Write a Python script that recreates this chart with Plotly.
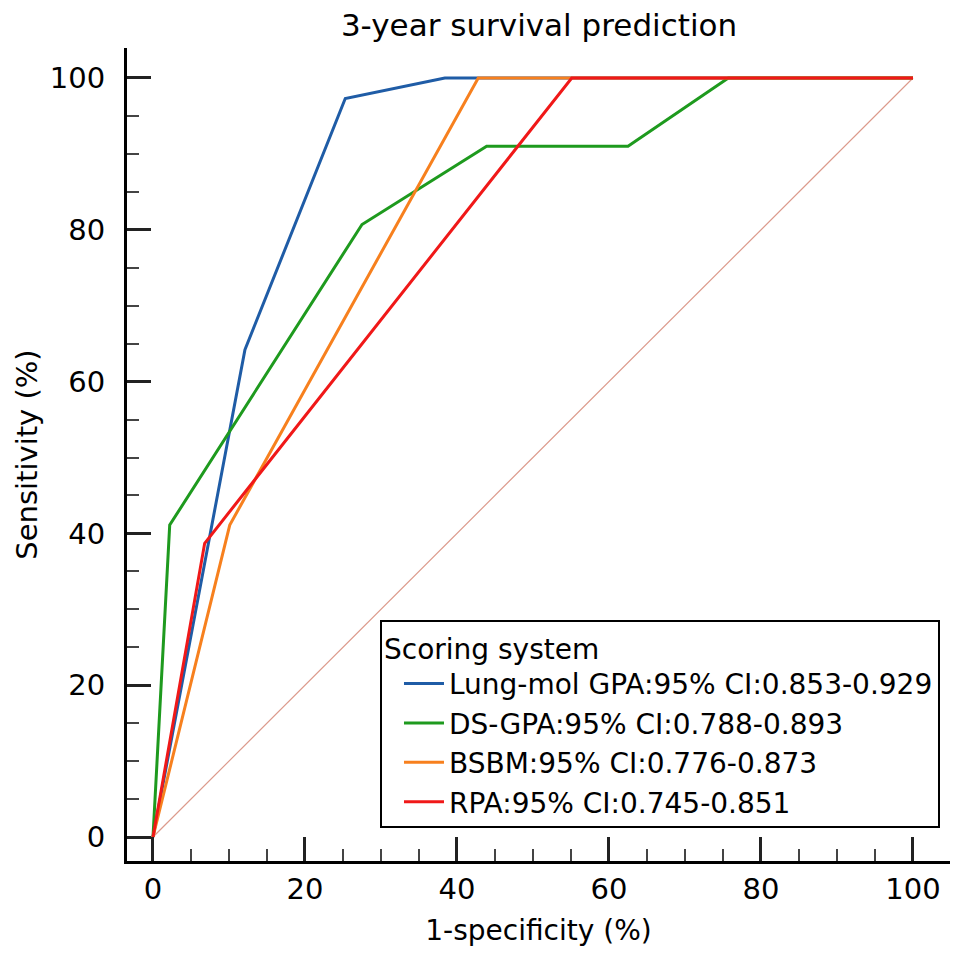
import plotly.graph_objects as go

# ROC data (1-specificity %, sensitivity %)
lung_x = [0, 12.1, 25.3, 38.4, 100]
lung_y = [0, 64.2, 97.3, 100, 100]
ds_x = [0, 2.2, 27.5, 43.9, 62.5, 75.7, 100]
ds_y = [0, 41.1, 80.7, 91.0, 91.0, 100, 100]
bsbm_x = [0, 10.1, 42.8, 100]
bsbm_y = [0, 41.1, 100, 100]
rpa_x = [0, 6.8, 55.1, 100]
rpa_y = [0, 38.7, 100, 100]
ref_x = [0, 100]
ref_y = [0, 100]

names = ["Lung-mol GPA:95% CI:0.853-0.929",
         "DS-GPA:95% CI:0.788-0.893",
         "BSBM:95% CI:0.776-0.873",
         "RPA:95% CI:0.745-0.851"]
colors = ["#1f5ca6", "#1e9a1e", "#f7801e", "#f01818"]

FONT = "DejaVu Sans, Liberation Sans, Arial, sans-serif"

fig = go.Figure()
fig.add_trace(go.Scatter(x=ref_x, y=ref_y, mode="lines",
                         line=dict(color="#dc9a8c", width=1.2),
                         showlegend=False, hoverinfo="skip"))
for xs, ys, nm, c in zip([lung_x, ds_x, bsbm_x, rpa_x],
                         [lung_y, ds_y, bsbm_y, rpa_y], names, colors):
    fig.add_trace(go.Scatter(x=xs, y=ys, mode="lines", name=nm,
                             line=dict(color=c, width=3)))

axis_common = dict(
    showline=True, linecolor="black", linewidth=3, mirror=False,
    showgrid=False, zeroline=False,
    ticks="inside", ticklen=24, tickwidth=3, tickcolor="#222",
    tickfont=dict(family=FONT, size=29, color="black"),
    dtick=20, tick0=0,
    minor=dict(ticks="inside", ticklen=12, tickwidth=2, tickcolor="#444", dtick=5, showgrid=False),
)

fig.update_layout(
    width=969, height=960,
    paper_bgcolor="white", plot_bgcolor="white",
    margin=dict(l=119, r=27, t=40, b=107),
    font=dict(family=FONT, color="black"),
    title=dict(text="3-year survival prediction", x=0.548, xanchor="center",
               y=0.982, yanchor="middle",
               font=dict(family=FONT, size=31, color="black")),
    xaxis=dict(range=[-3.42, 104.87],
               title=dict(text="1-specificity (%)", font=dict(family=FONT, size=28), standoff=16),
               **axis_common),
    yaxis=dict(range=[-3.16, 103.95], ticklabelstandoff=13,
               title=dict(text="Sensitivity (%)", font=dict(family=FONT, size=29), standoff=4),
               **axis_common),
    legend=dict(x=0.3074, y=0.168, xanchor="left", yanchor="middle",
                bgcolor="white", bordercolor="black", borderwidth=2,
                title=dict(text="Scoring system", font=dict(family=FONT, size=28)),
                font=dict(family=FONT, size=28, color="black"),
                indentation=17, tracegroupgap=0, itemwidth=40),
    showlegend=True,
)

fig.write_html("out.html")
